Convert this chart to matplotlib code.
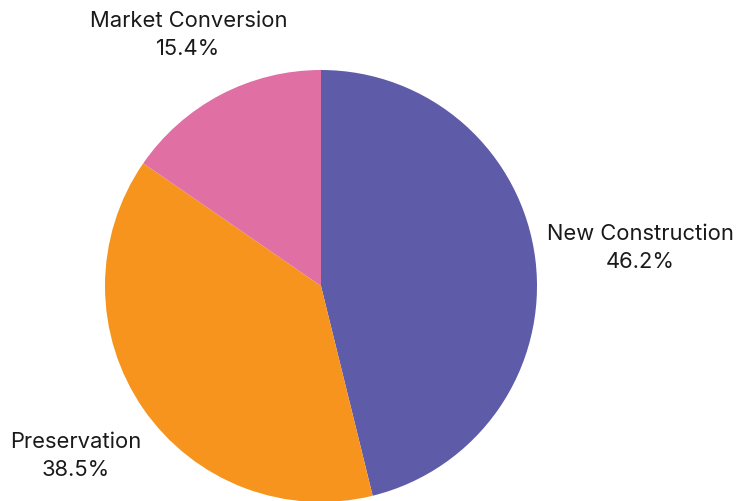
import matplotlib
matplotlib.use("Agg")
import matplotlib.pyplot as plt
import numpy as np

plt.rcParams["font.family"] = ["Inter", "DejaVu Sans"]

categories = ["New Construction", "Preservation", "Market Conversion"]
shares = [46.2, 38.5, 15.4]
colors = ["#5E5BA8", "#F7941D", "#E06FA4"]

# distance of each label centre from the pie centre, in radii
label_dist = [1.49, 1.38, 1.32]

fig = plt.figure(figsize=(7.38, 5.02), dpi=100)
W, H = 738, 502
cx, cy, r = 321, 215, 216
ax = fig.add_axes([(cx - r) / W, (cy - r) / H, 2 * r / W, 2 * r / H])

wedges, _ = ax.pie(
    shares,
    colors=colors,
    startangle=90,
    counterclock=False,
    radius=1,
    wedgeprops={"linewidth": 0},
)

for wedge, name, value, dist in zip(wedges, categories, shares, label_dist):
    mid = np.deg2rad((wedge.theta1 + wedge.theta2) / 2)
    ax.text(
        dist * np.cos(mid),
        dist * np.sin(mid),
        f"{name}\n{value:.1f}%",
        ha="center",
        va="center",
        fontsize=15.8,
        color="#1a1a1a",
        linespacing=1.5,
    )

ax.set_xlim(-1, 1)
ax.set_ylim(-1, 1)
ax.set_aspect("equal")
ax.axis("off")

fig.savefig("out.png", dpi=100)
